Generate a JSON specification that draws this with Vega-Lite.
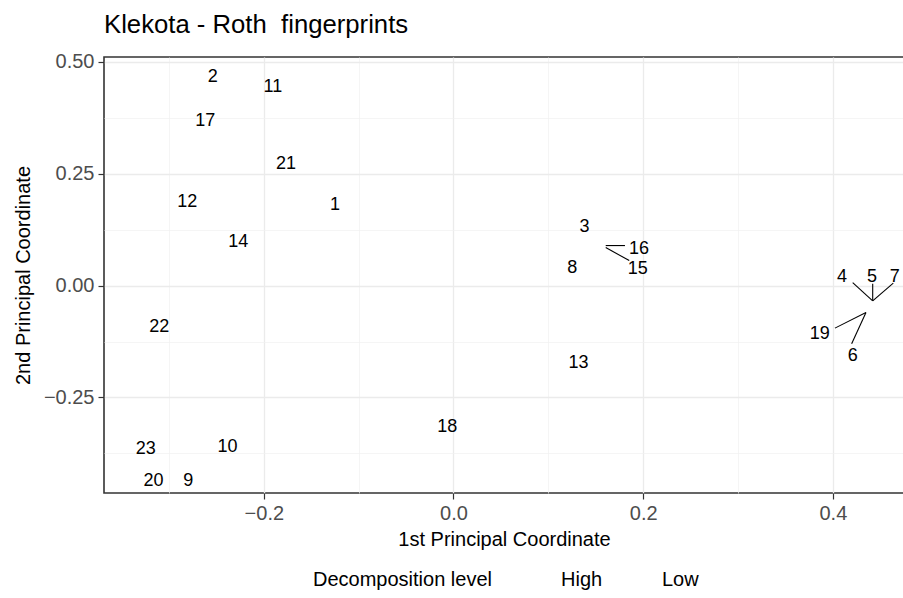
{
  "$schema": "https://vega.github.io/schema/vega-lite/v6.json",
  "width": 800,
  "height": 436,
  "autosize": {"type": "none"},
  "padding": {"left": 104, "top": 57, "right": 0, "bottom": 105},
  "background": "white",
  "title": {
    "text": "Klekota - Roth\u00a0 fingerprints",
    "anchor": "start",
    "frame": "group",
    "font": "Liberation Sans",
    "fontSize": 25.7,
    "fontWeight": "normal",
    "color": "black",
    "offset": 13
  },
  "config": {
    "view": {"stroke": "#333333", "strokeWidth": 1.6},
    "font": "Liberation Sans"
  },
  "datasets": {
    "labels": [
      {"id": "1", "x": -0.1249, "y": 0.1830, "level": "Low"},
      {"id": "2", "x": -0.2538, "y": 0.4692, "level": "Low"},
      {"id": "3", "x": 0.1381, "y": 0.1333, "level": "High"},
      {"id": "4", "x": 0.4096, "y": 0.0228, "level": "High"},
      {"id": "5", "x": 0.4412, "y": 0.0228, "level": "High"},
      {"id": "6", "x": 0.4210, "y": -0.1536, "level": "High"},
      {"id": "7", "x": 0.4652, "y": 0.0228, "level": "High"},
      {"id": "8", "x": 0.1253, "y": 0.0424, "level": "High"},
      {"id": "9", "x": -0.2796, "y": -0.4330, "level": "Low"},
      {"id": "10", "x": -0.2383, "y": -0.3563, "level": "Low"},
      {"id": "11", "x": -0.1905, "y": 0.4473, "level": "Low"},
      {"id": "12", "x": -0.2808, "y": 0.1895, "level": "Low"},
      {"id": "13", "x": 0.1318, "y": -0.1696, "level": "High"},
      {"id": "14", "x": -0.2270, "y": 0.1004, "level": "Low"},
      {"id": "15", "x": 0.1943, "y": 0.0402, "level": "High"},
      {"id": "16", "x": 0.1956, "y": 0.0859, "level": "High"},
      {"id": "17", "x": -0.2617, "y": 0.3705, "level": "Low"},
      {"id": "18", "x": -0.0065, "y": -0.3116, "level": "Low"},
      {"id": "19", "x": 0.3861, "y": -0.1056, "level": "High"},
      {"id": "20", "x": -0.3163, "y": -0.4330, "level": "Low"},
      {"id": "21", "x": -0.1766, "y": 0.2750, "level": "Low"},
      {"id": "22", "x": -0.3103, "y": -0.0884, "level": "Low"},
      {"id": "23", "x": -0.3245, "y": -0.3612, "level": "Low"}
    ],
    "segments": [
      {"id": "16", "px": 0.1605, "py": 0.0893, "lx": 0.1808, "ly": 0.0893},
      {"id": "15", "px": 0.1605, "py": 0.0848, "lx": 0.1853, "ly": 0.0558},
      {"id": "4", "px": 0.4420, "py": -0.0342, "lx": 0.4209, "ly": 0.0067},
      {"id": "5", "px": 0.4420, "py": -0.0342, "lx": 0.4420, "ly": 0.0038},
      {"id": "7", "px": 0.4420, "py": -0.0342, "lx": 0.4637, "ly": 0.0054},
      {"id": "19", "px": 0.4349, "py": -0.0603, "lx": 0.4022, "ly": -0.0951},
      {"id": "6", "px": 0.4349, "py": -0.0603, "lx": 0.4198, "ly": -0.1301}
    ]
  },
  "layer": [
    {
      "data": {"name": "segments"},
      "mark": {"type": "rule", "color": "black", "strokeWidth": 1.1},
      "encoding": {
        "x": {
          "field": "px", "type": "quantitative",
          "scale": {"domain": [-0.3685, 0.475], "nice": false, "zero": false},
          "axis": {"orient": "top", "values": [-0.3, -0.1, 0.1, 0.3], "grid": true, "gridColor": "#F0F0F0", "gridWidth": 0.7, "labels": false, "ticks": false, "domain": false, "title": null}
        },
        "y": {
          "field": "py", "type": "quantitative",
          "scale": {"domain": [-0.4634, 0.5105], "nice": false, "zero": false},
          "axis": {"orient": "right", "values": [-0.375, -0.125, 0.125, 0.375], "grid": true, "gridColor": "#F0F0F0", "gridWidth": 0.7, "labels": false, "ticks": false, "domain": false, "title": null}
        },
        "x2": {"field": "lx"},
        "y2": {"field": "ly"}
      }
    },
    {
      "data": {"name": "labels"},
      "mark": {"type": "text", "font": "Liberation Sans", "fontSize": 18, "align": "center", "baseline": "middle", "dy": 1.5},
      "encoding": {
        "x": {
          "field": "x", "type": "quantitative",
          "scale": {"domain": [-0.3685, 0.475], "nice": false, "zero": false},
          "axis": {"orient": "bottom", "values": [-0.2, 0, 0.2, 0.4], "format": ".1f", "grid": true, "gridColor": "#EBEBEB", "gridWidth": 1.3, "domain": false, "tickColor": "#333333", "tickSize": 6, "tickWidth": 1.2, "labelFontSize": 20, "labelColor": "#4D4D4D", "labelPadding": 4, "title": "1st Principal Coordinate", "titleFontSize": 20, "titleFontWeight": "normal", "titleColor": "black", "titlePadding": 6}
        },
        "y": {
          "field": "y", "type": "quantitative",
          "scale": {"domain": [-0.4634, 0.5105], "nice": false, "zero": false},
          "axis": {"orient": "left", "values": [-0.25, 0, 0.25, 0.5], "format": ".2f", "grid": true, "gridColor": "#EBEBEB", "gridWidth": 1.3, "domain": false, "tickColor": "#333333", "tickSize": 6, "tickWidth": 1.2, "labelFontSize": 20, "labelColor": "#4D4D4D", "labelPadding": 4, "title": "2nd Principal Coordinate", "titleFontSize": 20, "titleFontWeight": "normal", "titleColor": "black", "titlePadding": 10}
        },
        "text": {"field": "id"},
        "color": {
          "field": "level", "type": "nominal",
          "scale": {"domain": ["High", "Low"], "range": ["black", "black"]},
          "legend": {"orient": "none", "legendX": 209, "legendY": 513, "direction": "horizontal", "titleOrient": "left", "title": "Decomposition level", "titleFontSize": 20, "titleFontWeight": "normal", "titleColor": "black", "labelFontSize": 20, "labelColor": "black", "symbolOpacity": 0, "symbolStrokeWidth": 0, "symbolSize": 324, "labelOffset": 12, "columnPadding": 27, "titlePadding": 37}
        }
      }
    }
  ],
  "resolve": {"axis": {"x": "independent", "y": "independent"}}
}
